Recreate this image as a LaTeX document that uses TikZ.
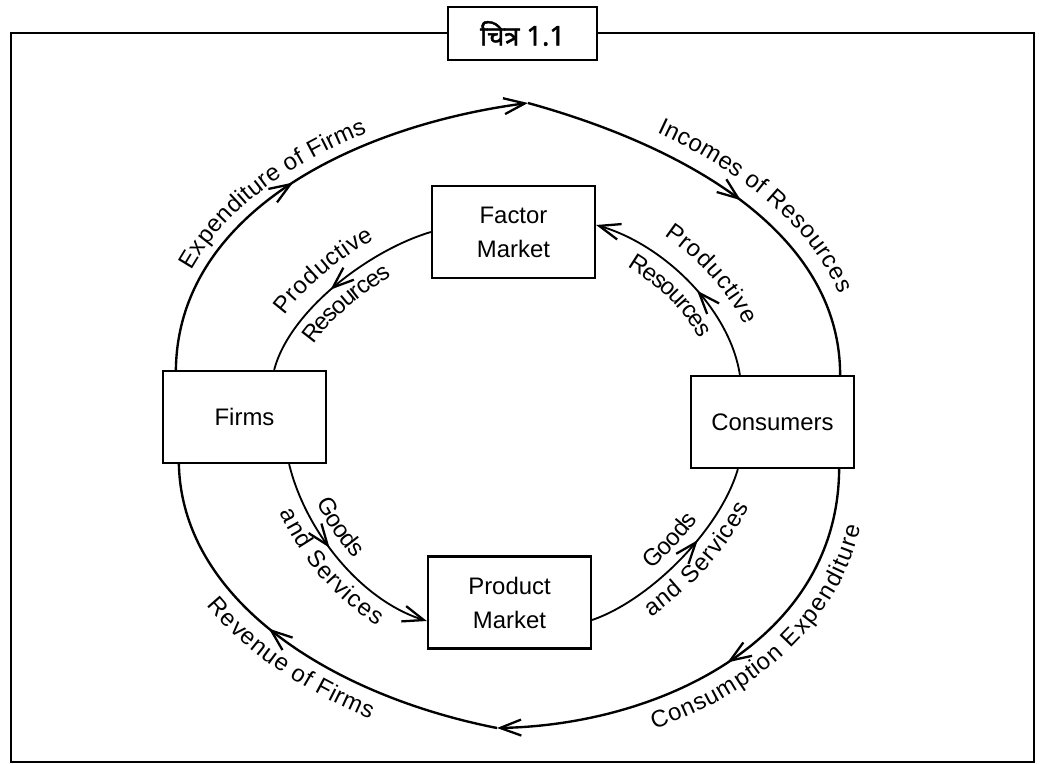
\documentclass[tikz,border=0pt]{standalone}
\usepackage{fontspec}
\setmainfont{Liberation Sans}
\newfontfamily\devfont[Script=Devanagari, FakeBold=1.6]{Noto Sans}
\usetikzlibrary{arrows.meta,decorations.markings,decorations.text}

\newcommand\flowfont{\fontsize{13.6}{19.4}\selectfont}

\tikzset{
  flowtip/.tip={Straight Barb[length=.42cm, width=.32cm, line width=1.3pt]},
  market/.style={draw, line width=1.3pt, fill=white, align=center,
    minimum width=3.26cm, minimum height=1.84cm, font=\flowfont},
  outer/.style={line width=1.35pt},
  inner/.style={line width=1.05pt},
  midarrow/.style={postaction={decorate, decoration={markings,
    mark=at position #1 with {\arrow{flowtip}}}}},
  midback/.style={postaction={decorate, decoration={markings,
    mark=at position #1 with {\arrowreversed{flowtip}}}}},
  % label written along the connector: indent, raise, text
  flowtext/.style n args={3}{postaction={decorate, decoration={text along path,
    text={|\flowfont|#3}, text align={left indent=#1}, raise=#2}}}
}

\begin{document}
\begin{tikzpicture}[x=0.02cm, y=-0.02cm]
  \useasboundingbox (0,0) rectangle (1042,764);

  \draw[line width=1.6pt] (11,33) rectangle (1034,762);
  \node[draw, line width=1.6pt, fill=white, minimum width=2.98cm, minimum height=1.06cm,
    font=\devfont\fontsize{15.5}{18}\selectfont] (title) at (522.5,33.5) {चित्र 1.1};

  \node[market] (firms) at (244.5,417) {Firms};
  \node[market] (consumers) at (772.5,422) {Consumers};
  \node[market] (factor) at (513.5,232) {Factor\\Market};
  \node[market] (product) at (509.5,602.5) {Product\\Market};

  \coordinate (top) at (528,103);
  \coordinate (bot) at (497,728);

  % money flows (outer loop)
  \draw[outer, -{flowtip}, midarrow=.48, flowtext={1.96cm}{.22cm}{Expenditure of Firms}]
    ([xshift=.28cm]firms.north west) .. controls (178,210) and (360,125) .. (top);
  \draw[outer, midarrow=.53, flowtext={2.6cm}{.32cm}{Incomes of Resources}]
    (top) .. controls (680,145) and (840,230) .. ([xshift=-.3cm]consumers.north east);
  \draw[outer, {flowtip}-, midback=.51, flowtext={3cm}{-.57cm}{Consumption Expenditure}]
    (bot) .. controls (660,725) and (838,640) .. ([xshift=-.32cm]consumers.south east);
  \draw[outer, midback=.435, flowtext={2.7cm}{-.55cm}{Revenue of Firms}]
    ([xshift=.34cm]firms.south west) .. controls (182,600) and (330,695) .. (bot);

  % real flows (inner loop)
  \draw[inner, midback=.46, flowtext={1cm}{.32cm}{Productive}, flowtext={.9cm}{-.5cm}{Resources}]
    ([xshift=-1.06cm]firms.north east) .. controls (290,310) and (370,250) .. (factor.west);
  \draw[inner, {flowtip}-, midback=.56, flowtext={1.25cm}{.4cm}{Productive},
    flowtext={1cm}{-.52cm}{Resources}]
    ([yshift=.14cm]factor.east) .. controls (665,245) and (730,310) .. ([xshift=1cm]consumers.north west);
  \draw[inner, -{flowtip}, midarrow=.43, flowtext={.95cm}{.25cm}{Goods},
    flowtext={.8cm}{-.5cm}{and Services}]
    ([xshift=-.76cm]firms.south east) .. controls (305,530) and (360,600) .. ([yshift=-.37cm]product.west);
  \draw[inner, midarrow=.62, flowtext={1.6cm}{.25cm}{Goods}, flowtext={1cm}{-.5cm}{and Services}]
    ([yshift=-.35cm]product.east) .. controls (650,600) and (720,530) .. ([xshift=.96cm]consumers.south west);
\end{tikzpicture}
\end{document}
